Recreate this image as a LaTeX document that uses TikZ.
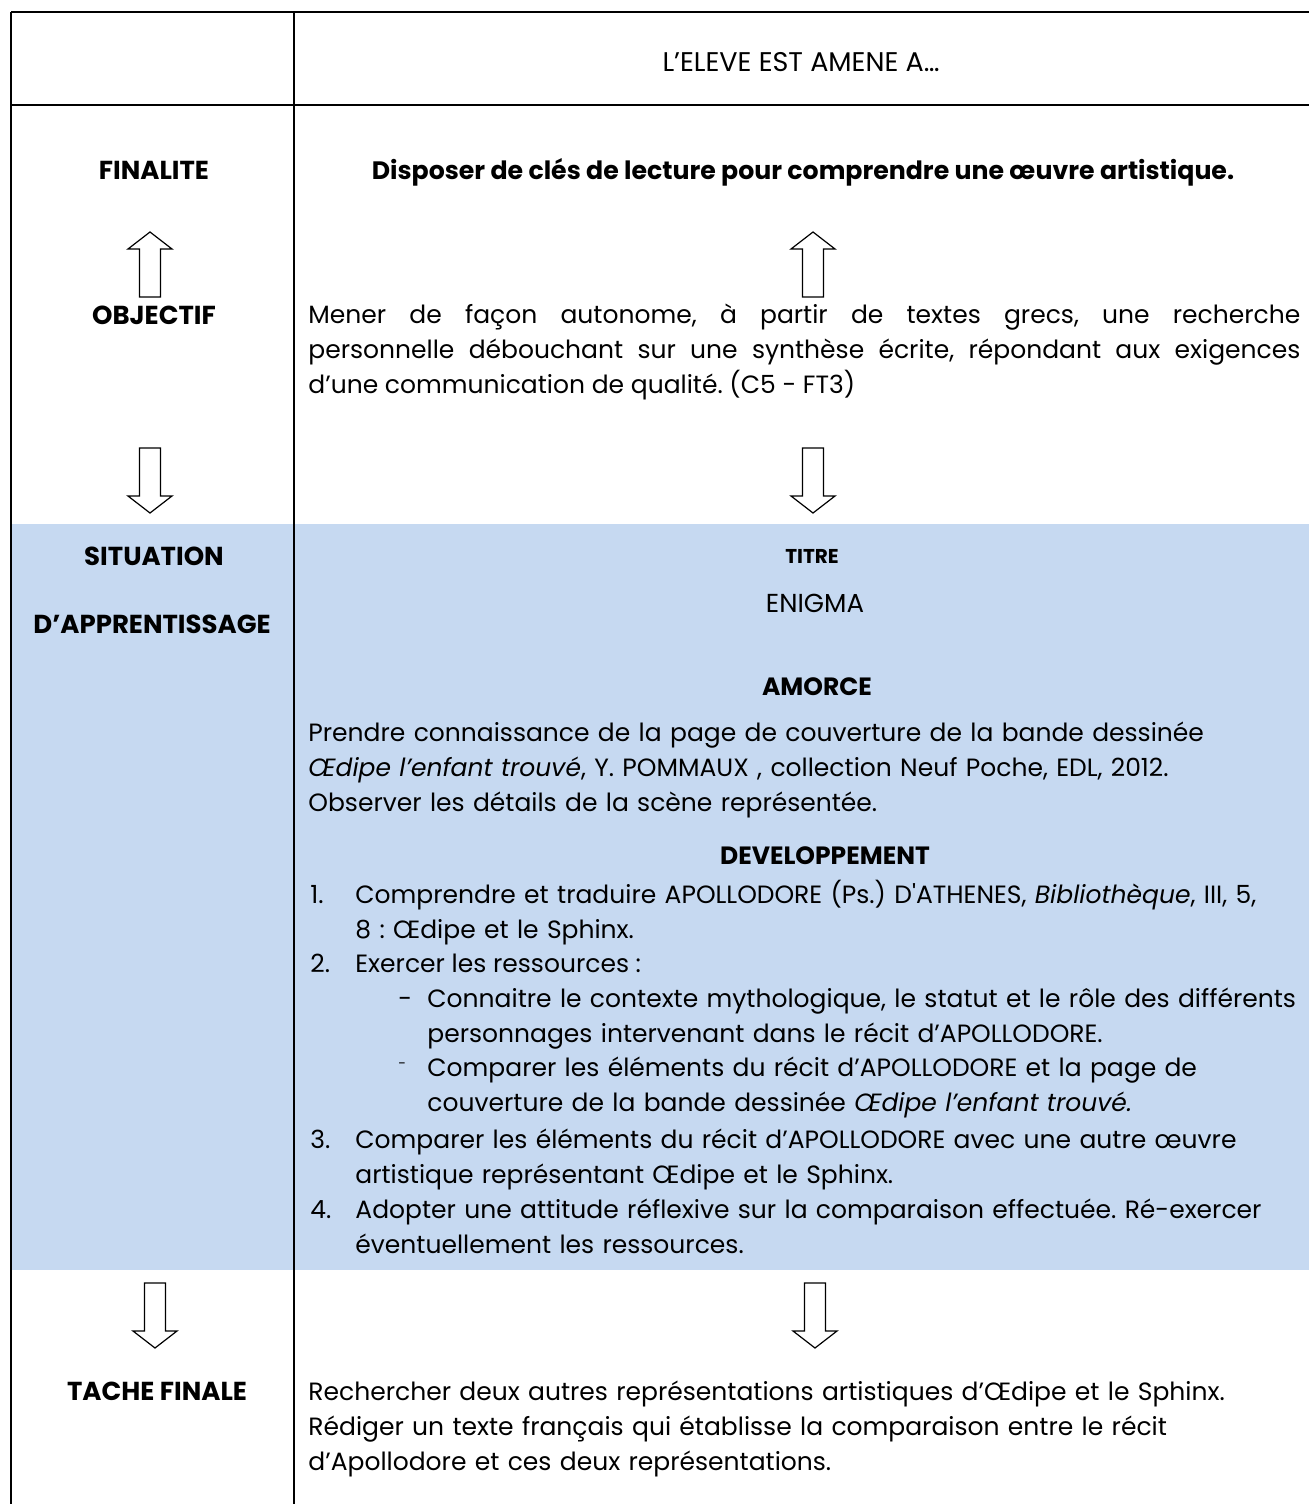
\documentclass[tikz,border=0pt]{standalone}
\usepackage{fontspec}
\setmainfont{Poppins}
\frenchspacing
\usetikzlibrary{positioning}
\definecolor{paleblue}{HTML}{C6D9F1}
\tikzset{
  rowlabel/.style={font=\bfseries\fontsize{13}{15}\selectfont, anchor=base, inner sep=0pt},
  heading/.style={font=\bfseries\fontsize{12.5}{15}\selectfont, anchor=base, inner sep=0pt},
  bodytext/.style={font=\fontsize{12.5}{17.5}\selectfont, align=left, anchor=base west, inner sep=0pt},
  bodyblock/.style={bodytext, text width=490pt},
  gridline/.style={line width=1pt, draw=black},
  hollowarrow/.style={line width=0.6pt, draw=black, fill=white},
  pics/arrowdown/.style={code={
    \draw[hollowarrow] (-10.5,0) -- (10.5,0) -- (10.5,48) -- (22,48) -- (0,65) -- (-22,48) -- (-10.5,48) -- cycle;
  }},
  pics/arrowup/.style={code={
    \draw[hollowarrow] (-10.5,65) -- (10.5,65) -- (10.5,17) -- (22,17) -- (0,0) -- (-22,17) -- (-10.5,17) -- cycle;
  }}
}
\begin{document}
\begin{tikzpicture}[x=0.5pt, y=-0.5pt]
  \useasboundingbox (0,0) rectangle (1309,1504);

  % shaded row and table rules
  \fill[paleblue] (11,524) rectangle (1309,1270);
  \draw[gridline] (11,12) -- (1309,12);
  \draw[gridline] (11,105) -- (1309,105);
  \draw[gridline] (11,12) -- (11,1504);
  \draw[gridline] (294,12) -- (294,1504);

  % header
  \node[bodytext, font=\fontsize{13.5}{16}\selectfont, anchor=base] (eleve) at (801,72) {L’ELEVE EST AMENE A…};

  % finalite / objectif
  \node[rowlabel] (finalite) at (154,179) {FINALITE};
  \node[heading, font=\bfseries\fontsize{12.6}{15}\selectfont] (disposer) at (803,179) {Disposer de clés de lecture pour comprendre une œuvre artistique.};
  \pic (upleft)  at (150,232) {arrowup};
  \pic (upright) at (813,232) {arrowup};
  \node[rowlabel] (objectif) at (154,324) {OBJECTIF};
  \node[bodytext, text width=496pt, align=justify] (mener) at (308,323)
    {Mener de façon autonome, à partir de textes grecs, une recherche\linebreak
     personnelle débouchant sur une synthèse écrite, répondant aux exigences\linebreak
     d’une communication de qualité. (C5 - FT3)};
  \pic (downleft)  at (150,448) {arrowdown};
  \pic (downright) at (813,448) {arrowdown};

  % situation d'apprentissage
  \node[rowlabel] (situation) at (154,565) {SITUATION};
  \node[rowlabel] (apprent) at (152,633) {D’APPRENTISSAGE};
  \node[heading, font=\bfseries\fontsize{10}{12}\selectfont] (titre) at (812,563) {TITRE};
  \node[bodytext, font=\fontsize{13}{16}\selectfont, anchor=base] (enigma) at (815,612) {ENIGMA};
  \node[heading] (amorce) at (817,695) {AMORCE};
  \node[bodyblock] (amorcetext) at (308,741)
    {Prendre connaissance de la page de couverture de la bande dessinée\\
     \textit{Œdipe l’enfant trouvé}, Y. POMMAUX , collection Neuf Poche, EDL, 2012.\\
     Observer les détails de la scène représentée.};
  \node[heading] (devel) at (825,864) {DEVELOPPEMENT};
  \node[bodytext] (num1) at (310,903) {1.};
  \node[bodyblock] (item1) at (355,903)
    {Comprendre et traduire APOLLODORE (Ps.) D\textquotesingle ATHENES, \textit{Bibliothèque}, III, 5,\\
     8 : Œdipe et le Sphinx.};
  \node[bodytext] (num2) at (310,972) {2.};
  \node[bodytext] (item2) at (355,972) {Exercer les ressources :};
  \node[bodytext] (dash1) at (398,1007) {-};
  \node[bodyblock] (sub1) at (427,1007)
    {Connaitre le contexte mythologique, le statut et le rôle des différents\\
     personnages intervenant dans le récit d’APOLLODORE.};
  \node[bodytext, font=\fontsize{7}{8}\selectfont] (dash2) at (398,1068) {-};
  \node[bodyblock] (sub2) at (427,1076)
    {Comparer les éléments du récit d’APOLLODORE et la page de\\
     couverture de la bande dessinée \textit{Œdipe l’enfant trouvé.}};
  \node[bodytext] (num3) at (310,1148) {3.};
  \node[bodyblock] (item3) at (355,1148)
    {Comparer les éléments du récit d’APOLLODORE avec une autre œuvre\\
     artistique représentant Œdipe et le Sphinx.};
  \node[bodytext] (num4) at (310,1218) {4.};
  \node[bodyblock] (item4) at (355,1218)
    {Adopter une attitude réflexive sur la comparaison effectuée. Ré-exercer\\
     éventuellement les ressources.};

  % tache finale
  \pic (lastleft)  at (155,1283) {arrowdown};
  \pic (lastright) at (815,1283) {arrowdown};
  \node[rowlabel] (tache) at (157,1400) {TACHE FINALE};
  \node[bodyblock] (tachetext) at (308,1400)
    {Rechercher deux autres représentations artistiques d’Œdipe et le Sphinx.\\
     Rédiger un texte français qui établisse la comparaison entre le récit\\
     d’Apollodore et ces deux représentations.};
\end{tikzpicture}
\end{document}
